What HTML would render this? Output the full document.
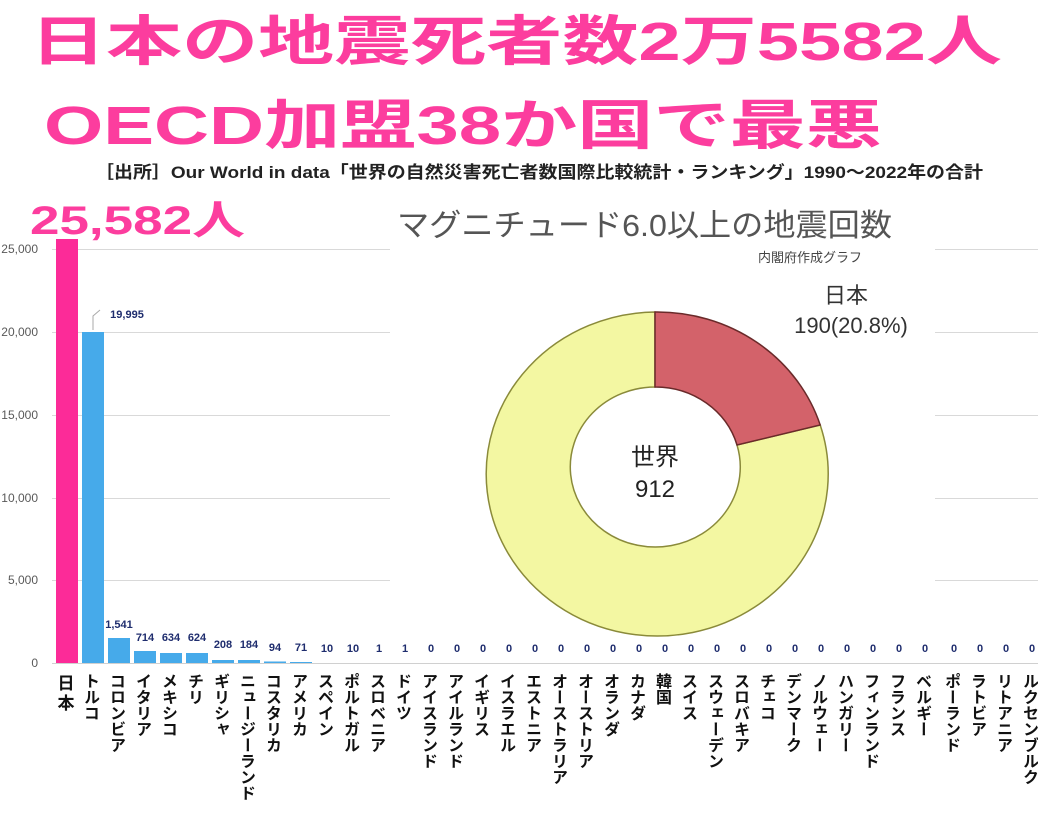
<!DOCTYPE html>
<html><head><meta charset="utf-8"><style>
body{margin:0;background:#fff;width:1038px;height:813px;overflow:hidden}
svg{display:block}
.t{font-family:"Liberation Sans","Noto Sans CJK JP",sans-serif}
</style></head><body>
<svg width="1038" height="813" viewBox="0 0 1038 813" class="t">
<text x="30" y="60" font-size="54" font-weight="bold" fill="#fc3d9e" font-family="Liberation Sans,Noto Sans CJK JP,sans-serif" textLength="972" lengthAdjust="spacingAndGlyphs">日本の地震死者数2万5582人</text>
<text x="44" y="144" font-size="54" font-weight="bold" fill="#fc3d9e" font-family="Liberation Sans,Noto Sans CJK JP,sans-serif" textLength="838" lengthAdjust="spacingAndGlyphs">OECD加盟38か国で最悪</text>
<text x="95" y="178" font-size="17" font-weight="bold" fill="#222" font-family="Liberation Sans,Noto Sans CJK JP,sans-serif" textLength="888" lengthAdjust="spacingAndGlyphs">［出所］Our World in data「世界の自然災害死亡者数国際比較統計・ランキング」1990～2022年の合計</text>
<text x="30" y="234" font-size="40" font-weight="bold" fill="#fc3d9e" font-family="Liberation Sans,Noto Sans CJK JP,sans-serif" textLength="215" lengthAdjust="spacingAndGlyphs">25,582人</text>
<g stroke="#d9d9d9" stroke-width="1">
<line x1="52" y1="249.5" x2="1038" y2="249.5"/><line x1="52" y1="332.5" x2="1038" y2="332.5"/>
<line x1="52" y1="415.5" x2="1038" y2="415.5"/><line x1="52" y1="498.5" x2="1038" y2="498.5"/>
<line x1="52" y1="580.5" x2="1038" y2="580.5"/><line x1="52" y1="663.5" x2="1038" y2="663.5"/>
</g>
<g font-size="12" fill="#595959" text-anchor="end">
<text x="38" y="253">25,000</text><text x="38" y="336">20,000</text><text x="38" y="419">15,000</text>
<text x="38" y="502">10,000</text><text x="38" y="584">5,000</text><text x="38" y="667">0</text>
</g>
<rect x="390" y="195" width="545" height="448" fill="#fff"/>
<rect x="56" y="239" width="22" height="424" fill="#fc2b98"/>
<g fill="#46aaea">
<rect x="82" y="332" width="22" height="331"/>
<rect x="108" y="638" width="22" height="25"/>
<rect x="134" y="651" width="22" height="12"/>
<rect x="160" y="653" width="22" height="10"/>
<rect x="186" y="653" width="22" height="10"/>
<rect x="212" y="660" width="22" height="3"/>
<rect x="238" y="660" width="22" height="3"/>
<rect x="264" y="661.5" width="22" height="1.5"/>
<rect x="290" y="662" width="22" height="1"/>
</g>
<polyline points="93,330 93,316 100,310" fill="none" stroke="#aaa"/>
<g font-size="11" font-weight="bold" fill="#1f2d6e" text-anchor="middle">
<text x="127" y="318">19,995</text>
<text x="119" y="628">1,541</text><text x="145" y="641">714</text><text x="171" y="641">634</text><text x="197" y="641">624</text>
<text x="223" y="648">208</text><text x="249" y="648">184</text><text x="275" y="651">94</text><text x="301" y="651">71</text>
<text x="327" y="652">10</text><text x="353" y="652">10</text><text x="379" y="652">1</text><text x="405" y="652">1</text>
<text x="431" y="652">0</text><text x="457" y="652">0</text><text x="483" y="652">0</text><text x="509" y="652">0</text>
<text x="535" y="652">0</text><text x="561" y="652">0</text><text x="587" y="652">0</text><text x="613" y="652">0</text>
<text x="639" y="652">0</text><text x="665" y="652">0</text><text x="691" y="652">0</text><text x="717" y="652">0</text>
<text x="743" y="652">0</text><text x="769" y="652">0</text><text x="795" y="652">0</text><text x="821" y="652">0</text>
<text x="847" y="652">0</text><text x="873" y="652">0</text><text x="899" y="652">0</text><text x="925" y="652">0</text>
<text x="954" y="652">0</text><text x="980" y="652">0</text><text x="1006" y="652">0</text><text x="1032" y="652">0</text>
</g>
<line x1="52" y1="663.5" x2="1038" y2="663.5" stroke="#d0d0d0"/>
<!-- donut -->
<text x="397" y="236" font-size="31" fill="#555" textLength="495" lengthAdjust="spacingAndGlyphs">マグニチュード6.0以上の地震回数</text>
<text x="758" y="262" font-size="13" fill="#444">内閣府作成グラフ</text>
<text x="846" y="303" font-size="22" fill="#333" text-anchor="middle">日本</text>
<text x="851" y="333" font-size="22" fill="#333" text-anchor="middle">190(20.8%)</text>
<path d="M655,312 A171,162 0 1 0 820.2,425 L737,445 A85,80 0 1 1 655,387 Z" fill="#f3f7a2" stroke="#8a8a3a" stroke-width="1.5"/>
<path d="M655,312 A171,162 0 0 1 820.2,425 L737,445 A85,80 0 0 0 655,387 Z" fill="#d3626a" stroke="#6a2a2a" stroke-width="1.5"/>
<text x="655" y="465" font-size="24" fill="#222" text-anchor="middle">世界</text>
<text x="655" y="497" font-size="24" fill="#222" text-anchor="middle">912</text>
<g font-size="17" font-weight="bold" fill="#111" text-anchor="middle" font-family="Noto Sans CJK JP,sans-serif">
<text x="66" y="689"><tspan x="66">日</tspan><tspan x="66" dy="20">本</tspan></text>
</g>
<g font-size="16" font-weight="bold" fill="#111" font-family="Noto Sans CJK JP,sans-serif" style="writing-mode:vertical-rl;text-orientation:upright">
<text x="92" y="673">トルコ</text>
<text x="118" y="673">コロンビア</text>
<text x="144" y="673">イタリア</text>
<text x="170" y="673">メキシコ</text>
<text x="196" y="673">チリ</text>
<text x="222" y="673">ギリシャ</text>
<text x="248" y="673">ニュージーランド</text>
<text x="274" y="673">コスタリカ</text>
<text x="300" y="673">アメリカ</text>
<text x="326" y="673">スペイン</text>
<text x="352" y="673">ポルトガル</text>
<text x="378" y="673">スロベニア</text>
<text x="404" y="673">ドイツ</text>
<text x="430" y="673">アイスランド</text>
<text x="456" y="673">アイルランド</text>
<text x="482" y="673">イギリス</text>
<text x="508" y="673">イスラエル</text>
<text x="534" y="673">エストニア</text>
<text x="560" y="673">オーストラリア</text>
<text x="586" y="673">オーストリア</text>
<text x="612" y="673">オランダ</text>
<text x="638" y="673">カナダ</text>
<text x="664" y="673">韓国</text>
<text x="690" y="673">スイス</text>
<text x="716" y="673">スウェーデン</text>
<text x="742" y="673">スロバキア</text>
<text x="768" y="673">チェコ</text>
<text x="794" y="673">デンマーク</text>
<text x="820" y="673">ノルウェー</text>
<text x="846" y="673">ハンガリー</text>
<text x="872" y="673">フィンランド</text>
<text x="898" y="673">フランス</text>
<text x="924" y="673">ベルギー</text>
<text x="953" y="673">ポーランド</text>
<text x="979" y="673">ラトビア</text>
<text x="1005" y="673">リトアニア</text>
<text x="1031" y="673">ルクセンブルク</text>
</g>
</svg>
</body></html>
